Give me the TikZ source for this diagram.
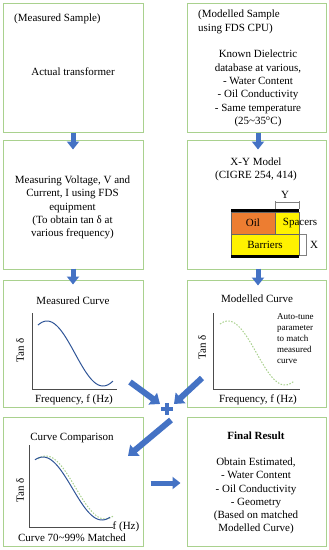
\documentclass[tikz,border=0pt]{standalone}
\usepackage{fontspec}
\setmainfont{Liberation Serif}
\usepackage{tikz}
\usetikzlibrary{arrows.meta}
\definecolor{boxgreen}{RGB}{169,209,142}
\definecolor{arrowblue}{RGB}{68,114,196}
\definecolor{curveblue}{RGB}{47,85,151}
\definecolor{oilorange}{RGB}{237,125,49}

\begin{document}
\begin{tikzpicture}[x=1pt, y=-1pt,
    box/.style={draw=boxgreen, line width=1pt, minimum width=140pt, minimum height=129pt, inner sep=0pt},
    bigarrow/.style={draw=arrowblue, line width=5pt, -{Triangle[width=12pt,length=8pt]}},
    diagarrow/.style={draw=arrowblue, line width=6pt, -{Triangle[width=14pt,length=9pt]}},
    txt/.style={font=\fontsize{11}{13.3}\selectfont, align=center, inner sep=0pt},
    small/.style={font=\fontsize{9}{11}\selectfont, align=left, inner sep=0pt},
    axis/.style={line width=0.6pt, draw=black!70},
    dotcurve/.style={boxgreen, line width=1pt, dash pattern=on 1.5pt off 1.5pt}]
\useasboundingbox (0,0) rectangle (329,550);

% boxes
\node[box] (sample) at (73,67.5) {};
\node[box, minimum width=139pt] (model) at (256.5,67.5) {};
\node[box] (measure) at (73,204.5) {};
\node[box, minimum width=139pt] (xymodel) at (256.5,204.5) {};
\node[box, minimum height=127pt] (mcurve) at (73,343.5) {};
\node[box, minimum width=139pt, minimum height=127pt] (modcurve) at (256.5,343.5) {};
\node[box] (comp) at (73,481.5) {};
\node[box, minimum width=139pt] (final) at (256.5,481.5) {};

% texts
\node[txt, anchor=west] (t1) at (14,19) {(Measured Sample)};
\node[txt] (t2) at (73,72) {Actual transformer};
\node[txt, align=left, anchor=west] (t3) at (198,22) {(Modelled Sample\\using FDS CPU)};
\node[txt] (t4) at (258,88.5) {Known Dielectric\\database at various,\\- Water Content\\- Oil Conductivity\\- Same temperature\\(25\textasciitilde 35\textsuperscript{o}C)};
\node[txt] (t5) at (72.5,207.5) {Measuring Voltage, V and\\Current, I using FDS\\equipment\\(To obtain tan δ at\\various frequency)};
\node[txt] (t6) at (256,169) {X-Y Model\\(CIGRE 254, 414)};
\node[txt] (t7) at (73,301) {Measured Curve};
\node[txt] (t8) at (257,299) {Modelled Curve};
\node[small, anchor=west] (t9) at (277,339) {Auto-tune\\parameter\\to match\\measured\\curve};
\node[txt] (t10) at (74,400) {Frequency, f (Hz)};
\node[txt] (t11) at (258,400) {Frequency, f (Hz)};
\node[txt] (t12) at (72,438) {Curve Comparison};
\node[txt] (t13) at (126,527) {f (Hz)};
\node[txt] (t14) at (72,538) {Curve 70\textasciitilde 99\% Matched};
\node[txt, font=\fontsize{11}{13.3}\selectfont\bfseries] (t15) at (256,436) {Final Result};
\node[txt] (t16) at (256,496) {Obtain Estimated,\\- Water Content\\- Oil Conductivity\\- Geometry\\(Based on matched\\Modelled Curve)};
\node[txt, rotate=90] (tan1) at (20,350) {Tan δ};
\node[txt, rotate=90] (tan2) at (202,347) {Tan δ};
\node[txt, rotate=90] (tan3) at (20,490) {Tan δ};

% X-Y model
\fill[black] (231,209) rectangle (299,212);
\filldraw[fill=oilorange, draw=black!60] (231,212) rectangle (275,234);
\filldraw[fill=yellow, draw=black!60] (275,212) rectangle (299,234);
\filldraw[fill=yellow, draw=black!60] (231,234) rectangle (299,255);
\fill[black] (231,255) rectangle (299,258);
\node[txt] (oil) at (253,223) {Oil};
\node[txt] (spacers) at (300,223) {Spacers};
\node[txt] (barriers) at (265,245) {Barriers};
\draw[gray, thin] (275,209) -- (275,201) (299,209) -- (299,201) (275,202) -- (299,202);
\draw[gray, thin] (300,234) -- (306,234) -- (306,255) -- (300,255);
\node[txt] (ylab) at (285,195) {Y};
\node[txt] (xlab) at (314,245) {X};

% axes and curves
\draw[axis] (32,313) -- (32,389) -- (117,389);
\draw[axis] (213,313) -- (213,389) -- (300,389);
\draw[axis] (29,445) -- (29,527) -- (113,527);
\draw[curveblue, line width=1pt] plot[domain=38:113, samples=60] (\x, {353.5-32.5*cos(180*(\x-47)/56)});
\draw[dotcurve] plot[domain=220:294, samples=60] (\x, {353-32*cos(180*(\x-228)/57)});
\draw[dotcurve] plot[domain=38:113, samples=60] (\x, {487.5-31.5*cos(180*(\x-46)/59)});
\draw[curveblue, line width=1pt] plot[domain=35:110, samples=60] (\x, {488.5-31.5*cos(180*(\x-43)/59)});

% arrows
\path
(130,382) coordinate (a1)
(160,404) coordinate (a2)
(202,378) coordinate (b1)
(174,404) coordinate (b2)
(171,420) coordinate (c1)
(128,456) coordinate (c2)
(167,408.5) coordinate (plus)
;
\draw[bigarrow] (sample.south) -- ([yshift=-10pt]measure.north);
\draw[bigarrow] ([xshift=1.5pt]model.south) -- ([xshift=1.5pt,yshift=-10pt]xymodel.north);
\draw[bigarrow] ([yshift=1pt]measure.south) -- ([yshift=-5pt]mcurve.north);
\draw[bigarrow] ([xshift=1.5pt,yshift=1pt]xymodel.south) -- ([xshift=1.5pt,yshift=-6pt]modcurve.north);
\draw[diagarrow] (a1) -- (a2);
\draw[diagarrow] (b1) -- (b2);
\draw[diagarrow] (c1) -- (c2);
\draw[bigarrow] ([xshift=7pt,yshift=-1.5pt]comp.east) -- ([xshift=-6pt,yshift=-1.5pt]final.west);
\fill[arrowblue] ([xshift=-6pt,yshift=-2pt]plus) rectangle ([xshift=6pt,yshift=2pt]plus);
\fill[arrowblue] ([xshift=-2pt,yshift=-6pt]plus) rectangle ([xshift=2pt,yshift=6pt]plus);
\end{tikzpicture}
\end{document}
